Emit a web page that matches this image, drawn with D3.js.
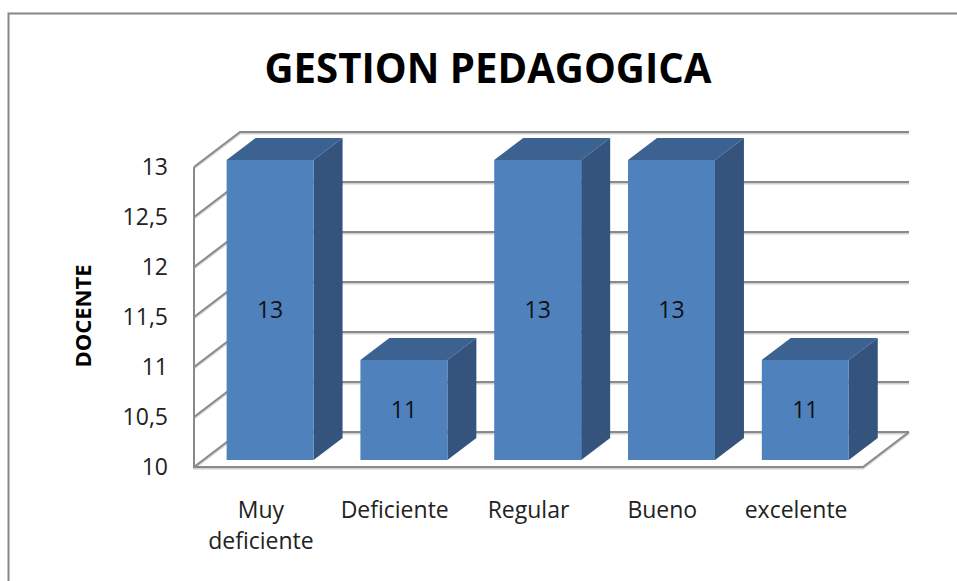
<!DOCTYPE html>
<html>
<head>
<meta charset="utf-8">
<script src="https://cdn.jsdelivr.net/npm/d3@7"></script>
<style>
  body { margin: 0; background: #fff; }
  text { font-family: "Open Sans", sans-serif; }
</style>
</head>
<body>
<svg id="chart" width="957" height="581"></svg>
<script>
// data
var categories = ["Muy deficiente", "Deficiente", "Regular", "Bueno", "excelente"];
var values = [13, 11, 13, 13, 11];
var yTicks = [10, 10.5, 11, 11.5, 12, 12.5, 13];
var title = "GESTION PEDAGOGICA";
var yTitle = "DOCENTE";

var svg = d3.select("#chart"),
    width = +svg.attr("width"),
    height = +svg.attr("height");

// front plane of the 3d box and the depth vector
var x0 = 194, x1 = 863,
    yBottom = 467, yTop = 167,
    depthX = 46, depthY = -35;

var x = d3.scaleBand()
    .domain(categories)
    .range([x0, x1])
    .paddingInner(0.35)
    .paddingOuter(0.175);

var y = d3.scaleLinear()
    .domain([10, 13])
    .range([yBottom, yTop]);

// outer frame
svg.append("rect")
    .attr("x", 8.5).attr("y", 13.5)
    .attr("width", 980).attr("height", 620)
    .attr("fill", "none")
    .attr("stroke", "#878787")
    .attr("stroke-width", 2);

svg.append("text")
    .attr("x", 488).attr("y", 83)
    .attr("text-anchor", "middle")
    .attr("font-size", 41)
    .attr("font-weight", "bold")
    .attr("textLength", 447)
    .attr("lengthAdjust", "spacingAndGlyphs")
    .text(title);

// walls and gridlines
var grid = svg.append("g").attr("fill", "none").attr("stroke-width", 2);

function gridPath(v) {
    var yf = y(v);
    return "M" + x0 + "," + yf + "L" + (x0 + depthX) + "," + (yf + depthY) +
        "L" + (x1 + depthX) + "," + (yf + depthY);
}

var wallPaths = yTicks.map(gridPath);
wallPaths.push("M" + x0 + "," + y(13) + "L" + x0 + "," + y(10) + "L" + x1 + "," + y(10) +
    "L" + (x1 + depthX) + "," + (y(10) + depthY));

grid.selectAll("path.shadow")
    .data(wallPaths)
    .enter().append("path")
    .attr("class", "shadow")
    .attr("transform", "translate(0,1.5)")
    .attr("stroke", "#d0d0d0")
    .attr("d", function (d) { return d; });

grid.selectAll("path.line")
    .data(wallPaths)
    .enter().append("path")
    .attr("class", "line")
    .attr("stroke", "#8a8a8a")
    .attr("d", function (d) { return d; });

// y axis labels
var fmt = d3.format("");
var yAxis = svg.append("g")
    .attr("transform", "translate(176,0)")
    .call(d3.axisLeft(y).tickValues(yTicks).tickSize(0).tickPadding(8)
        .tickFormat(function (d) { return fmt(d).replace(".", ","); }));
yAxis.select(".domain").remove();
yAxis.selectAll("text")
    .attr("font-family", "'Open Sans', sans-serif")
    .attr("font-size", 23)
    .attr("fill", "#222");

svg.append("text")
    .attr("transform", "translate(91,316) rotate(-90)")
    .attr("text-anchor", "middle")
    .attr("font-size", 22)
    .attr("font-weight", "bold")
    .text(yTitle);

// bars
var f0 = 0.2, f1 = 0.83;
var bars = svg.append("g").selectAll("g")
    .data(categories)
    .enter().append("g");

function pts(p) {
    return p.map(function (q) { return q.join(","); }).join(" ");
}

bars.each(function (c, i) {
    var g = d3.select(this);
    var xl = x(c) + depthX * f0,
        xr = xl + x.bandwidth(),
        yb = y(10) + depthY * f0,
        yt = y(values[i]) + depthY * f0,
        ddx = depthX * (f1 - f0),
        ddy = depthY * (f1 - f0);
    g.append("polygon")
        .attr("fill", "#3c6291")
        .attr("points", pts([[xl, yt], [xl + ddx, yt + ddy], [xr + ddx, yt + ddy], [xr, yt]]));
    g.append("polygon")
        .attr("fill", "#34547e")
        .attr("points", pts([[xr, yt], [xr + ddx, yt + ddy], [xr + ddx, yb + ddy], [xr, yb]]));
    g.append("rect")
        .attr("x", xl).attr("y", yt)
        .attr("width", x.bandwidth()).attr("height", yb - yt)
        .attr("fill", "#4f81bd");
    g.append("text")
        .attr("x", xl + x.bandwidth() / 2)
        .attr("y", (yt + yb) / 2)
        .attr("dy", "0.36em")
        .attr("text-anchor", "middle")
        .attr("font-size", 23)
        .attr("fill", "#111")
        .text(values[i]);
});

// category labels, wrapped like the original
var xLabels = svg.append("g").selectAll("text")
    .data(categories)
    .enter().append("text")
    .attr("x", function (d) { return x(d) + x.bandwidth() / 2; })
    .attr("y", 518)
    .attr("text-anchor", "middle")
    .attr("font-size", 23)
    .attr("fill", "#222");

xLabels.each(function (d) {
    var words = d === "Muy deficiente" ? ["Muy", "deficiente"] : [d];
    var t = d3.select(this);
    words.forEach(function (w, k) {
        t.append("tspan")
            .attr("x", t.attr("x"))
            .attr("dy", k === 0 ? 0 : 31)
            .text(w);
    });
});
</script>
</body>
</html>
